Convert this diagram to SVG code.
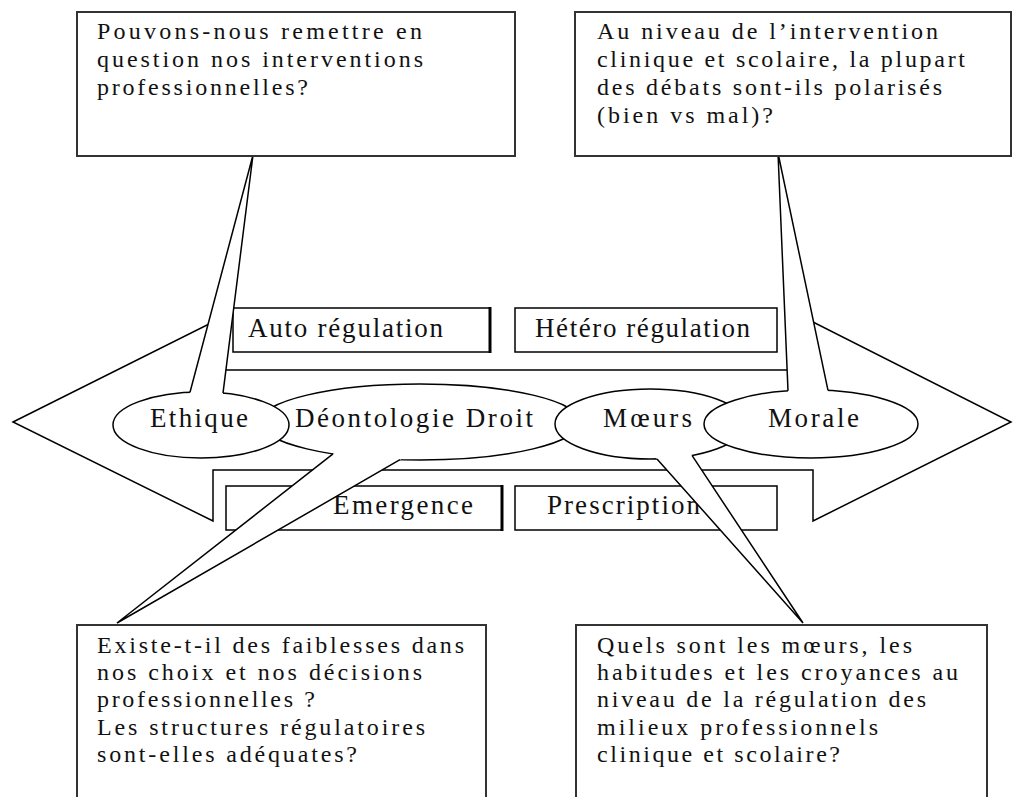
<svg xmlns="http://www.w3.org/2000/svg" width="1013" height="797" viewBox="0 0 1013 797">
<style>
.box{fill:#fff;stroke:#333;stroke-width:2}
.lbl{fill:#fff;stroke:#000;stroke-width:1.5}
.shape{fill:#fff;stroke:#000;stroke-width:1.5;stroke-linejoin:miter}
.t{font-family:"Liberation Serif","Times New Roman",serif;font-size:24px;fill:#111}
.c{font-family:"Liberation Serif","Times New Roman",serif;font-size:27px;fill:#111}
.tailfill{fill:#fff;stroke:none}
.tailline{stroke:#000;stroke-width:1.5;fill:none}
</style>
<rect width="1013" height="797" fill="#fff"/>
<g id="double-arrow">
<polygon class="shape" points="13,422 213,322 213,370 813,370 813,322 1011,422 813,521 813,470 213,470 213,521"/>
</g>
<g id="auto-regulation">
<rect class="lbl" x="233" y="308" width="257" height="44"/>
<line x1="490" y1="307" x2="490" y2="353" stroke="#000" stroke-width="3"/>
<text class="c" x="248" y="337" textLength="195" lengthAdjust="spacing">Auto régulation</text>
</g>
<g id="hetero-regulation">
<rect class="lbl" x="515" y="308" width="262" height="44"/>
<text class="c" x="535" y="337" textLength="215" lengthAdjust="spacing">Hétéro régulation</text>
</g>
<g id="emergence">
<rect class="lbl" x="226" y="486" width="276" height="44"/>
<line x1="502" y1="485" x2="502" y2="531" stroke="#000" stroke-width="3"/>
<text class="c" x="333" y="514" textLength="140" lengthAdjust="spacing">Emergence</text>
</g>
<g id="prescription">
<rect class="lbl" x="515" y="486" width="262" height="44"/>
<text class="c" x="547" y="514" textLength="153" lengthAdjust="spacing">Prescription</text>
</g>
<g id="deontologie-droit">
<ellipse class="shape" cx="420" cy="422" rx="160" ry="38"/>
<text class="c" x="295" y="427" textLength="238" lengthAdjust="spacing">Déontologie Droit</text>
</g>
<g id="ethique">
<ellipse class="shape" cx="201" cy="425" rx="88" ry="33"/>
<text class="c" x="150" y="427" textLength="98" lengthAdjust="spacing">Ethique</text>
</g>
<g id="moeurs">
<ellipse class="shape" cx="650" cy="424" rx="95" ry="35"/>
<text class="c" x="603" y="427" textLength="89" lengthAdjust="spacing">Mœurs</text>
</g>
<g id="morale">
<ellipse class="shape" cx="811" cy="424" rx="107" ry="34"/>
<text class="c" x="768" y="427" textLength="91" lengthAdjust="spacing">Morale</text>
</g>
<g id="connectors">
<polygon class="tailfill" points="253,155 188.97,396.2 222.5,397.1"/>
<polyline class="tailline" points="190,392.3 253,155 223,393.1"/>
<polygon class="tailfill" points="117,623 336.15,451.4 403.5,457.7"/>
<polyline class="tailline" points="333,453.9 117,623 400,459.7"/>
<polygon class="tailfill" points="803,623 654.3,455.9 689.8,452.1"/>
<polyline class="tailline" points="657,458.9 803,623 692,455.4"/>
<polygon class="tailfill" points="778,153 788.17,394.8 828.8,394.3"/>
<polyline class="tailline" points="788,390.8 778,153 828,390.4"/>
</g>
<g id="question-top-left">
<rect class="box" x="77" y="12" width="438" height="144"/>
<text class="t" x="97" y="39" textLength="325" lengthAdjust="spacing">Pouvons-nous remettre en</text>
<text class="t" x="97" y="67" textLength="326" lengthAdjust="spacing">question nos interventions</text>
<text class="t" x="97" y="95" textLength="211" lengthAdjust="spacing">professionnelles?</text>
</g>
<g id="question-top-right">
<rect class="box" x="575" y="12" width="436" height="144"/>
<text class="t" x="597" y="39" textLength="341" lengthAdjust="spacing">Au niveau de l’intervention</text>
<text class="t" x="597" y="67" textLength="368" lengthAdjust="spacing">clinique et scolaire, la plupart</text>
<text class="t" x="597" y="95" textLength="345" lengthAdjust="spacing">des débats sont-ils polarisés</text>
<text class="t" x="597" y="123" textLength="176" lengthAdjust="spacing">(bien vs mal)?</text>
</g>
<g id="question-bottom-left">
<rect class="box" x="77" y="625" width="409" height="200"/>
<text class="t" x="97" y="653" textLength="367" lengthAdjust="spacing">Existe-t-il des faiblesses dans</text>
<text class="t" x="97" y="680" textLength="325" lengthAdjust="spacing">nos choix et nos décisions</text>
<text class="t" x="97" y="707" textLength="218" lengthAdjust="spacing">professionnelles ?</text>
<text class="t" x="97" y="735" textLength="328" lengthAdjust="spacing">Les structures régulatoires</text>
<text class="t" x="97" y="762" textLength="260" lengthAdjust="spacing">sont-elles adéquates?</text>
</g>
<g id="question-bottom-right">
<rect class="box" x="576" y="625" width="411" height="200"/>
<text class="t" x="597" y="653" textLength="315" lengthAdjust="spacing">Quels sont les mœurs, les</text>
<text class="t" x="597" y="680" textLength="361" lengthAdjust="spacing">habitudes et les croyances au</text>
<text class="t" x="597" y="707" textLength="329" lengthAdjust="spacing">niveau de la régulation des</text>
<text class="t" x="597" y="735" textLength="281" lengthAdjust="spacing">milieux professionnels</text>
<text class="t" x="597" y="762" textLength="243" lengthAdjust="spacing">clinique et scolaire?</text>
</g>
</svg>
